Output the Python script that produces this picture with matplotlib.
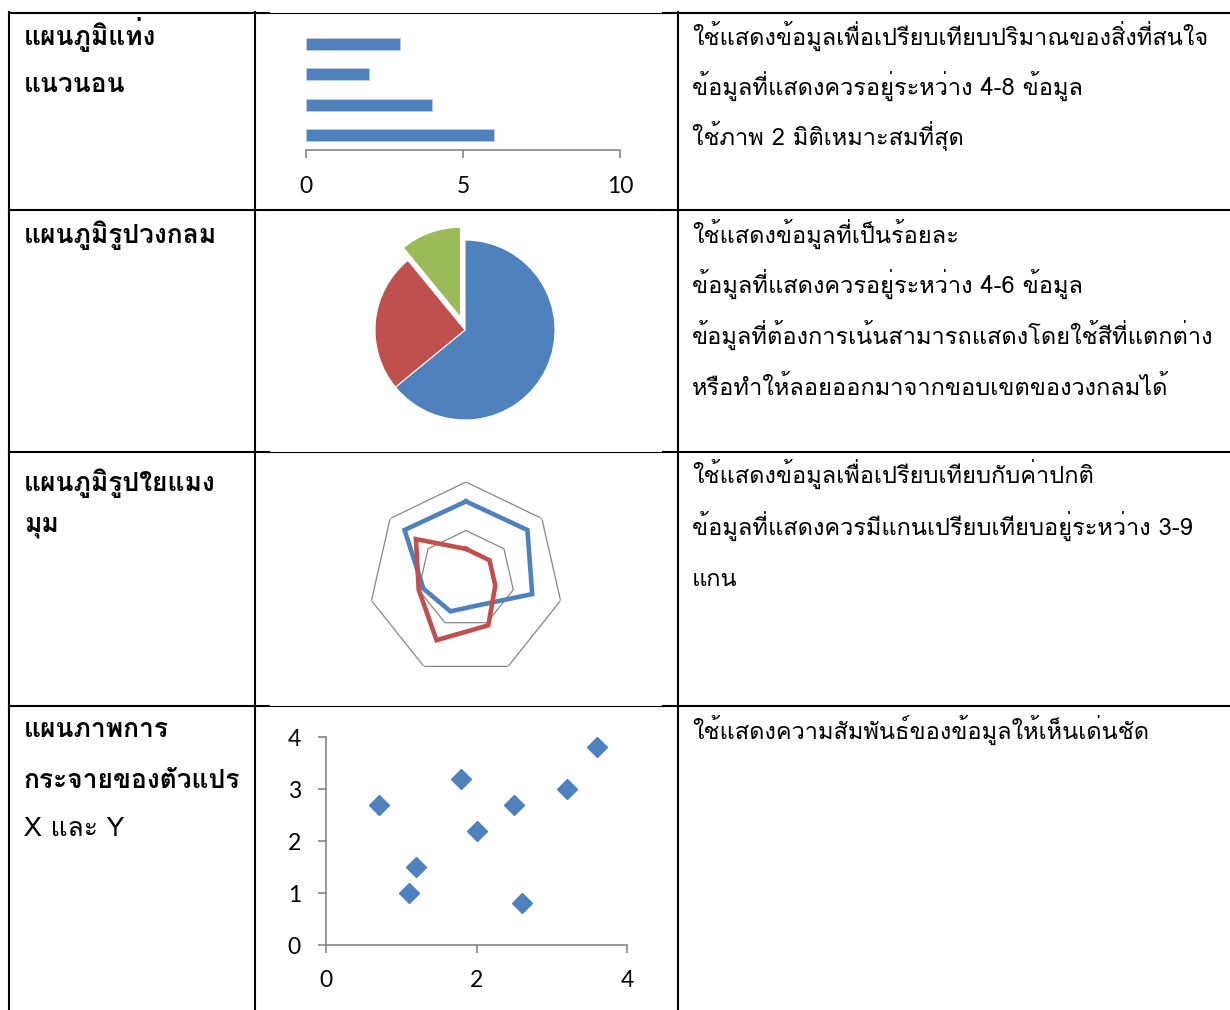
import matplotlib as mpl
mpl.use('Agg')
import matplotlib.pyplot as plt
import numpy as np
from matplotlib.lines import Line2D

W, H = 1230, 1010

# data
bar_values = [6, 4, 2, 3]          # category 1..4, bottom to top
bar_ticks = [0, 5, 10]
pie_values = [8.2, 3.2, 1.4]
pie_explode = [0, 0, 0.15]
radar_blue = [8.0, 8.1, 7.0, 3.0, 3.7, 4.5, 8.1]
radar_red = [3.1, 3.1, 3.1, 5.3, 7.0, 5.0, 6.6]
radar_rings = [5, 10]
scatter_x = [0.7, 1.1, 1.2, 1.8, 2.0, 2.5, 2.6, 3.2, 3.6]
scatter_y = [2.7, 1.0, 1.5, 3.2, 2.2, 2.7, 0.8, 3.0, 3.8]

row_titles = [
    ['แผนภูมิแท่ง', 'แนวนอน'],
    ['แผนภูมิรูปวงกลม'],
    ['แผนภูมิรูปใยแมง', 'มุม'],
    ['แผนภาพการ', 'กระจายของตัวแปร', 'X และ Y'],
]
row_notes = [
    ['ใช้แสดงข้อมูลเพื่อเปรียบเทียบปริมาณของสิ่งที่สนใจ',
     'ข้อมูลที่แสดงควรอยู่ระหว่าง 4-8 ข้อมูล',
     'ใช้ภาพ 2 มิติเหมาะสมที่สุด'],
    ['ใช้แสดงข้อมูลที่เป็นร้อยละ',
     'ข้อมูลที่แสดงควรอยู่ระหว่าง 4-6 ข้อมูล',
     'ข้อมูลที่ต้องการเน้นสามารถแสดงโดยใช้สีที่แตกต่าง',
     'หรือทำให้ลอยออกมาจากขอบเขตของวงกลมได้'],
    ['ใช้แสดงข้อมูลเพื่อเปรียบเทียบกับค่าปกติ',
     'ข้อมูลที่แสดงควรมีแกนเปรียบเทียบอยู่ระหว่าง 3-9',
     'แกน'],
    ['ใช้แสดงความสัมพันธ์ของข้อมูลให้เห็นเด่นชัด'],
]

BLUE = '#4F81BD'
RED = '#C0504D'
GREEN = '#9BBB59'
GRAY = '#868686'

fam = ['Loma', 'DejaVu Sans']
num_font = 'Lato'


def box(l, t, r, b):
    return [l / W, 1 - b / H, (r - l) / W, (b - t) / H]


def hline(fig, y, x0, x1, lw=1.5):
    fig.add_artist(Line2D([x0 / W, x1 / W], [1 - y / H, 1 - y / H],
                          transform=fig.transFigure, color='black', lw=lw))


def vline(fig, x, y0, y1, lw=1.5):
    fig.add_artist(Line2D([x / W, x / W], [1 - y0 / H, 1 - y1 / H],
                          transform=fig.transFigure, color='black', lw=lw))


fig = plt.figure(figsize=(W / 100, H / 100), dpi=100)
fig.patch.set_facecolor('white')

# table grid
for y in [13, 210, 452, 706]:
    hline(fig, y, 9, 269)
    hline(fig, y, 663, W)
for y, lw in [(13, 0.8), (210, 1.5), (452, 0.8), (706, 0.8)]:
    hline(fig, y, 269, 663, lw)
for x in [9, 255, 678]:
    vline(fig, x, 12, H)

# bar chart
ax = fig.add_axes(box(306, 29, 620, 150))
ax.barh(range(len(bar_values)), bar_values, height=0.4, color=BLUE,
        edgecolor='#B9CDE5', linewidth=0.6)
ax.set_xlim(0, 10)
ax.set_ylim(-0.5, len(bar_values) - 0.5)
ax.set_xticks(bar_ticks)
ax.set_yticks([])
for s in ['top', 'right', 'left']:
    ax.spines[s].set_visible(False)
ax.spines['bottom'].set_color(GRAY)
ax.spines['bottom'].set_linewidth(1.2)
ax.tick_params(axis='x', direction='out', length=6, width=1.2, color=GRAY,
               pad=13, labelsize=16.5)
for t in ax.get_xticklabels():
    t.set_fontfamily(num_font)

# pie chart
ax = fig.add_axes(box(465 - 117, 330 - 117, 465 + 117, 330 + 117))
ax.pie(pie_values, explode=pie_explode, colors=[BLUE, RED, GREEN],
       startangle=90, counterclock=False,
       wedgeprops=dict(edgecolor='white', linewidth=0.8))
ax.set_xlim(-1.3, 1.3)
ax.set_ylim(-1.3, 1.3)
ax.set_aspect('equal')
ax.axis('off')

# radar chart
n = len(radar_blue)
theta = np.linspace(0, 2 * np.pi, n, endpoint=False)
tc = np.append(theta, theta[0])
ax = fig.add_axes(box(466 - 97, 579 - 97, 466 + 97, 579 + 97), projection='polar')
ax.set_theta_zero_location('N')
ax.set_theta_direction(-1)
for r in radar_rings:
    ax.plot(tc, [r] * (n + 1), color=GRAY, lw=0.9)
ax.plot(tc, np.append(radar_blue, radar_blue[0]), color=BLUE, lw=3.3,
        solid_joinstyle='miter')
ax.plot(tc, np.append(radar_red, radar_red[0]), color=RED, lw=3.3,
        solid_joinstyle='miter')
ax.set_ylim(0, 10)
ax.grid(False)
ax.set_xticks([])
ax.set_yticks([])
ax.spines['polar'].set_visible(False)
ax.patch.set_alpha(0)

# scatter chart
ax = fig.add_axes(box(326, 737, 627, 945))
ax.plot(scatter_x, scatter_y, linestyle='none', marker='D', markersize=10,
        color=BLUE, markeredgecolor=BLUE)
ax.set_xlim(0, 4)
ax.set_ylim(0, 4)
ax.set_xticks([0, 2, 4])
ax.set_yticks([0, 1, 2, 3, 4])
for s in ['top', 'right']:
    ax.spines[s].set_visible(False)
for s in ['left', 'bottom']:
    ax.spines[s].set_color(GRAY)
    ax.spines[s].set_linewidth(1.2)
ax.tick_params(direction='out', length=6, width=1.2, color=GRAY, labelsize=16.5)
ax.tick_params(axis='x', pad=12)
ax.tick_params(axis='y', pad=12)
for t in ax.get_xticklabels() + ax.get_yticklabels():
    t.set_fontfamily(num_font)

# text in the table
title_base = [[45, 92], [243], [491, 532], [737, 788, 836]]
note_base = [[45, 95, 145], [243, 293, 344, 395], [483, 535, 586], [739]]
for lines, ys in zip(row_titles, title_base):
    for s, y in zip(lines, ys):
        # the latin line looks lighter in the original
        weight = 'normal' if s.startswith('X') else 'bold'
        fig.text(24 / W, 1 - y / H, s, family=fam, fontsize=19,
                 fontweight=weight, va='baseline', ha='left')
for lines, ys in zip(row_notes, note_base):
    for s, y in zip(lines, ys):
        fig.text(692 / W, 1 - y / H, s, family=fam, fontsize=17,
                 va='baseline', ha='left')

plt.savefig('out.png', dpi=100)
